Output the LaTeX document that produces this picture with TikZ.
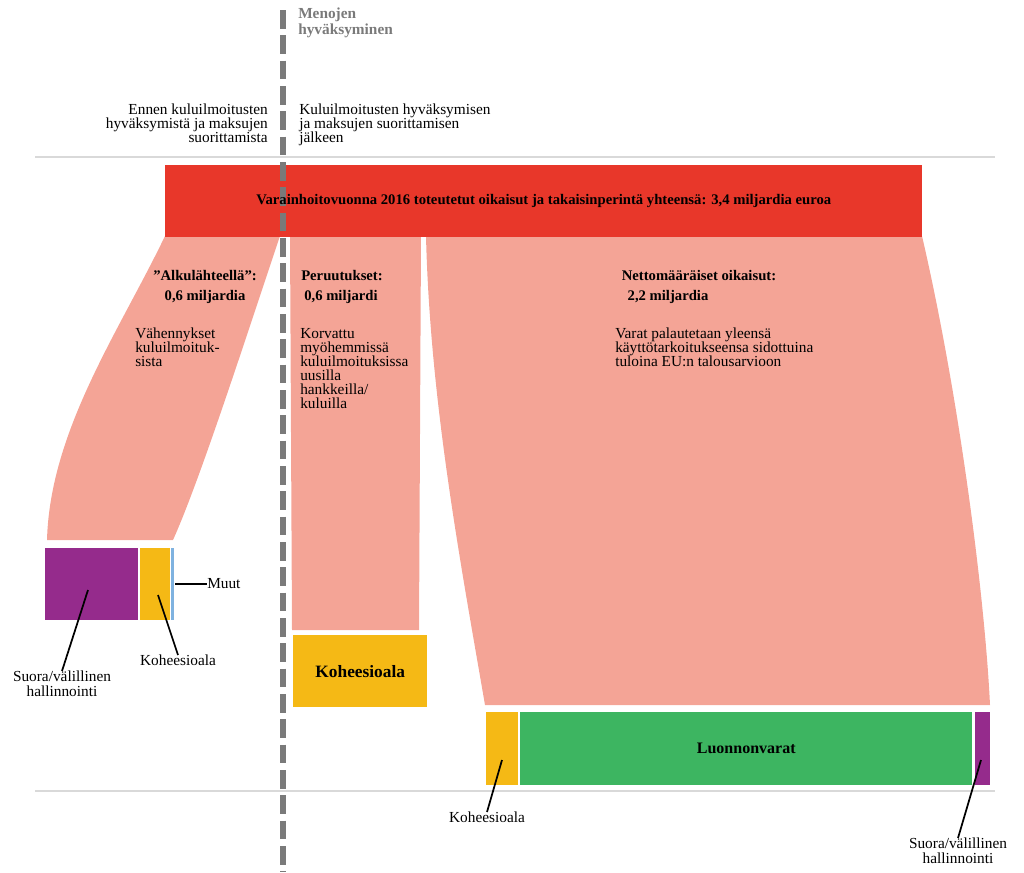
\documentclass[tikz,border=0pt]{standalone}
\usepackage{fontspec}
\setmainfont{Liberation Serif}
\begin{document}
\begin{tikzpicture}[x=0.75pt,y=-0.75pt,
  txt/.style={font=\fontsize{11.5}{11}\selectfont, inner sep=0pt, align=left},
  btxt/.style={font=\fontsize{11}{11}\selectfont\bfseries, inner sep=0pt},
  lead/.style={draw=black, line width=1.3pt}]
\definecolor{red1}{HTML}{E8372A}
\definecolor{salm}{HTML}{F4A496}
\definecolor{purp}{HTML}{952B8C}
\definecolor{yel}{HTML}{F5B915}
\definecolor{grn}{HTML}{3DB561}
\definecolor{blu}{HTML}{7FB2E0}
\definecolor{gry}{HTML}{7A7A7A}
\useasboundingbox (0,0) rectangle (1024,872);
% guide lines
\draw[gray!30, line width=0.8pt] (35,157) -- (995,157);
\draw[gray!30, line width=0.8pt] (35,791) -- (995,791);
% flows
\fill[salm] (165,236) -- (280,236) .. controls (245,340) and (200,480) .. (173,540) -- (47,540) .. controls (50,430) and (120,330) .. (165,236) -- cycle;
\fill[salm] (290,236) -- (421,236) -- (419,630) -- (292,630) -- cycle;
\fill[salm] (426,236) -- (922,236) .. controls (960,400) and (985,600) .. (990,705) -- (485,705) .. controls (460,560) and (430,400) .. (426,236) -- cycle;
% red bar
\node[fill=red1, minimum width=757*0.75pt, minimum height=72*0.75pt, inner sep=0pt, anchor=north west] (bar) at (165,165) {};
% dashed line
\draw[gry, line width=4pt, dash pattern=on 14pt off 5pt] (283,10) -- (283,872);
\node[btxt] (t) at (bar.center) {Varainhoitovuonna 2016 toteutetut oikaisut ja takaisinperintä yhteensä: 3,4 miljardia euroa};
% header texts
\node[txt, text=gry, font=\fontsize{11.5}{10}\selectfont\bfseries, anchor=north west] (men) at (298,8) {Menojen\\hyväksyminen};
\node[txt, align=right, anchor=north east, font=\fontsize{11.5}{10.5}\selectfont] (ennen) at (268,104) {Ennen kuluilmoitusten\\hyväksymistä ja maksujen\\suorittamista};
\node[txt, anchor=north west, font=\fontsize{11.5}{10.5}\selectfont] (jalk) at (299,104) {Kuluilmoitusten hyväksymisen\\ja maksujen suorittamisen\\jälkeen};
% flow labels
\node[btxt] (al) at (205,276) {"Alkulähteellä":};
\node[btxt] (al2) at (205,297) {0,6 miljardia};
\node[btxt, anchor=west] (pe) at (301,276) {Peruutukset:};
\node[btxt, anchor=west] (pe2) at (304,297) {0,6 miljardi};
\node[btxt] (ne) at (699,276) {Nettomääräiset oikaisut:};
\node[btxt] (ne2) at (668,297) {2,2 miljardia};
\node[txt, anchor=north west, font=\fontsize{11.5}{10.5}\selectfont] (v1) at (135,328) {Vähennykset\\kuluilmoituk-\\sista};
\node[txt, anchor=north west, font=\fontsize{11.5}{10.5}\selectfont] (v2) at (300,328) {Korvattu\\myöhemmissä\\kuluilmoituksissa\\uusilla\\hankkeilla/\\kuluilla};
\node[txt, anchor=north west, font=\fontsize{11.5}{10.5}\selectfont] (v3) at (615,328) {Varat palautetaan yleensä\\käyttötarkoitukseensa sidottuina\\tuloina EU:n talousarvioon};
% bottom-left boxes
\fill[purp] (45,548) rectangle (138,620);
\fill[yel] (140,548) rectangle (170,620);
\fill[blu] (171,548) rectangle (174,620);
\coordinate (pl) at (88,590); \coordinate (yl) at (158,595); \coordinate (ml) at (175,584);
\node[txt, anchor=west] (muut) at (207,584) {Muut};
\node[txt, anchor=north] (koh1) at (178,655) {Koheesioala};
\node[txt, align=center, anchor=north] (suo1) at (62,671) {Suora/välillinen\\hallinnointi};
\draw[lead] (ml) -- (muut.west);
\draw[lead] (yl) -- (koh1.north);
\draw[lead] (pl) -- (suo1.north);
% middle box
\node[fill=yel, minimum width=134*0.75pt, minimum height=72*0.75pt, inner sep=0pt, anchor=north west] (mk) at (293,635) {};
\node[btxt, font=\fontsize{13}{13}\selectfont\bfseries] at (mk.center) {Koheesioala};
% bottom right
\fill[yel] (486,712) rectangle (518,785);
\node[fill=grn, minimum width=452*0.75pt, minimum height=73*0.75pt, inner sep=0pt, anchor=north west] (lu) at (520,712) {};
\node[btxt, font=\fontsize{12}{12}\selectfont\bfseries] at (lu.center) {Luonnonvarat};
\fill[purp] (975,712) rectangle (990,785);
\coordinate (yr) at (502,760); \coordinate (pr) at (981,760);
\node[txt, anchor=north] (koh2) at (487,812) {Koheesioala};
\node[txt, align=center, anchor=north] (suo2) at (958,838) {Suora/välillinen\\hallinnointi};
\draw[lead] (yr) -- (koh2.north);
\draw[lead] (pr) -- (suo2.north);
\end{tikzpicture}
\end{document}
